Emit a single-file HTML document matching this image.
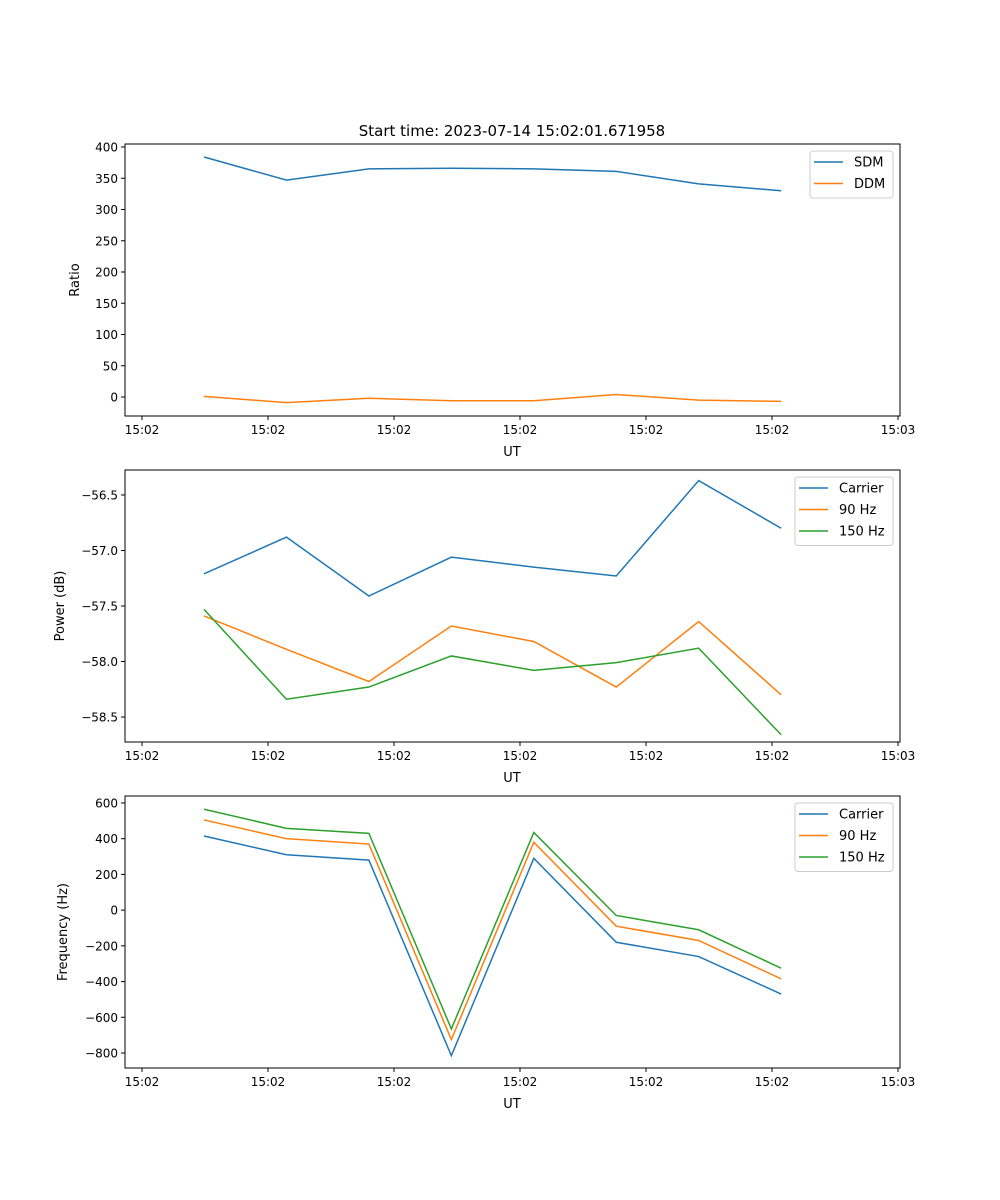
<!DOCTYPE html>
<html><head><meta charset="utf-8">
<style>
html,body{margin:0;padding:0;background:#fff;}
svg{display:block;font-family:"DejaVu Sans","Liberation Sans",sans-serif;}
</style></head>
<body>
<svg id="fig" width="1000" height="1200" xmlns="http://www.w3.org/2000/svg">
<rect width="1000" height="1200" fill="#fff"/>
<text x="512" y="136" font-size="15" text-anchor="middle">Start time: 2023-07-14 15:02:01.671958</text>
</svg>
<script>
const xTickLabels = ["15:02","15:02","15:02","15:02","15:02","15:02","15:03"];
const xIndex = [0,1,2,3,4,5,6,7];
const sdm = [384,347,365,366,365,361,341,330];
const ddm = [1,-9,-2,-6,-6,4,-5,-7];
const powCarrier = [-57.21,-56.88,-57.41,-57.06,-57.15,-57.23,-56.37,-56.80];
const pow90 = [-57.59,-57.89,-58.18,-57.68,-57.82,-58.23,-57.64,-58.30];
const pow150 = [-57.53,-58.34,-58.23,-57.95,-58.08,-58.01,-57.88,-58.66];
const freqCarrier = [415,310,280,-815,290,-180,-260,-470];
const freq90 = [505,400,370,-725,380,-90,-170,-385];
const freq150 = [565,458,430,-665,435,-30,-110,-325];
const ratioTicks = [0,50,100,150,200,250,300,350,400];
const powerTicks = [-58.5,-58.0,-57.5,-57.0,-56.5];
const freqTicks = [-800,-600,-400,-200,0,200,400,600];

const NS="http://www.w3.org/2000/svg";
const svg=document.getElementById('fig');
const C={blue:"#1f77b4",orange:"#ff7f0e",green:"#2ca02c"};
const L=125,R=900;
// x: index 0 -> 204, tick t (0..6) at 142+126*t
const xData=i=>204+i*82.45;
const xTick=t=>142+t*126;
function mk(tag,attrs,parent){const e=document.createElementNS(NS,tag);for(const k in attrs)e.setAttribute(k,attrs[k]);(parent||svg).appendChild(e);return e;}

function panel(name,top,bottom,ymin,ymax,ticks,fmt,ylabel,ylabelX,series,legend){
  const g=mk('g',{});
  
  
  const y=v=>bottom-(v-ymin)/(ymax-ymin)*(bottom-top);
  series.forEach(s=>{
    const p=mk('polyline',{points:s.vals.map((v,i)=>xData(xIndex[i])+','+y(v)).join(' '),fill:'none',stroke:s.color,'stroke-width':1.5},g);
    
    
  });
  const box=mk('rect',{x:L,y:top,width:R-L,height:bottom-top,fill:'none',stroke:'#000','stroke-width':1},g);
  
  
  xTickLabels.forEach((lab,t)=>{
    const X=xTick(t);
    mk('line',{x1:X,y1:bottom,x2:X,y2:bottom+4,stroke:'#000'},g);
    const tx=mk('text',{x:X,y:bottom+18,'font-size':12,'text-anchor':'middle'},g);
    tx.textContent=lab;
    
    
  });
  const xl=mk('text',{x:512,y:bottom+40,'font-size':13,'text-anchor':'middle'},g);
  xl.textContent='UT';
  
  
  ticks.forEach(v=>{
    const Y=y(v);
    mk('line',{x1:L-4,y1:Y,x2:L,y2:Y,stroke:'#000'},g);
    const tx=mk('text',{x:L-7,y:Y+4.5,'font-size':12,'text-anchor':'end'},g);
    tx.textContent=fmt(v);
    
    
  });
  const yl=mk('text',{x:ylabelX,y:(top+bottom)/2,'font-size':13,'text-anchor':'middle',transform:`rotate(-90 ${ylabelX} ${(top+bottom)/2})`},g);
  yl.textContent=ylabel;
  
  
  // legend
  const lg=mk('g',{},g);
  
  
  mk('rect',{x:legend.x,y:top+7,width:R-7-legend.x,height:series.length*21.5+4,rx:3,fill:'#fff','fill-opacity':0.8,stroke:'#ccc'},lg);
  series.forEach((s,i)=>{
    const Y=top+18+i*21.5;
    mk('line',{x1:legend.x+4,y1:Y,x2:legend.x+33,y2:Y,stroke:s.color,'stroke-width':1.5},lg);
    const t=mk('text',{x:legend.x+44,y:Y+4.5,'font-size':13},lg);
    t.textContent=s.label;
    
    
  });
}
panel('ratio',144,416,-30.4,404.8,ratioTicks,v=>String(v),'Ratio',79,
  [{key:'sdm',label:'SDM',vals:sdm,color:C.blue},{key:'ddm',label:'DDM',vals:ddm,color:C.orange}],{x:810});
panel('power',470,742,-58.725,-56.275,powerTicks,v=>'\u2212'+Math.abs(v).toFixed(1),'Power (dB)',64,
  [{key:'carrier',label:'Carrier',vals:powCarrier,color:C.blue},{key:'90hz',label:'90 Hz',vals:pow90,color:C.orange},{key:'150hz',label:'150 Hz',vals:pow150,color:C.green}],{x:795});
panel('frequency',796,1068,-884,639,freqTicks,v=>v<0?'\u2212'+Math.abs(v):String(v),'Frequency (Hz)',67,
  [{key:'carrier',label:'Carrier',vals:freqCarrier,color:C.blue},{key:'90hz',label:'90 Hz',vals:freq90,color:C.orange},{key:'150hz',label:'150 Hz',vals:freq150,color:C.green}],{x:795});
</script>
</body></html>
